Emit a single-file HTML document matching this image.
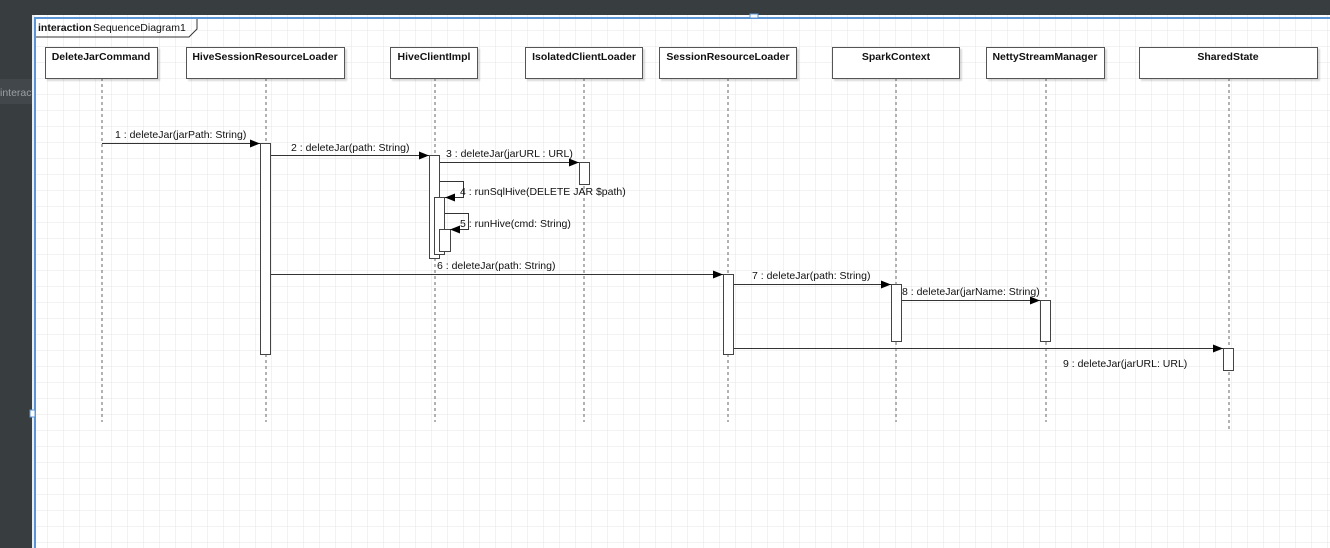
<!DOCTYPE html>
<html><head><meta charset="utf-8"><style>
html,body{margin:0;padding:0;width:1330px;height:548px;overflow:hidden;background:#fff}
svg{display:block}
text{font-family:"Liberation Sans",sans-serif;font-size:10.5px;fill:#111}
.b{font-weight:bold}
</style></head><body>
<svg width="1330" height="548" viewBox="0 0 1330 548" xmlns="http://www.w3.org/2000/svg">
<defs>
<pattern id="g" x="0" y="15" width="16" height="16" patternUnits="userSpaceOnUse">
<path d="M16 0V16M0 16H16" stroke="#e6e6e6" stroke-width="1" fill="none"/>
</pattern>
<marker id="a" markerWidth="10" markerHeight="8" refX="10" refY="4" orient="auto" markerUnits="userSpaceOnUse">
<path d="M0,0L10,4L0,8z" fill="#000"/>
</marker>
<filter id="s" x="-5%" y="-10%" width="115%" height="140%"><feDropShadow dx="2" dy="2" stdDeviation="0.8" flood-color="#000" flood-opacity="0.15"/></filter>
</defs>
<rect x="0" y="0" width="1330" height="548" fill="#fff"/>
<rect x="35" y="15" width="1295" height="533" fill="url(#g)"/>
<!-- chrome -->
<rect x="0" y="0" width="1330" height="15" fill="#383d40"/>
<rect x="0" y="0" width="32" height="548" fill="#383d40"/>
<rect x="0" y="79" width="32" height="25" fill="#41474a"/>
<text x="0" y="96" style="fill:#9aa0a4;font-size:10.5px">interact</text>
<rect x="32" y="15" width="3" height="533" fill="#e9eef3"/>
<line x1="35" y1="17" x2="35" y2="548" stroke="#5b95d6" stroke-width="2"/>
<line x1="35" y1="18" x2="1330" y2="18" stroke="#5b95d6" stroke-width="2"/>
<rect x="750" y="14" width="8" height="4" fill="#fff" stroke="#5b95d6"/>
<rect x="30" y="410" width="5" height="7" fill="#fff" stroke="#5b95d6"/>
<!-- frame label -->
<path d="M36 37H189L197 29V19" fill="none" stroke="#333" stroke-width="1"/>
<text x="38" y="31" class="b">interaction</text><text x="93" y="31">SequenceDiagram1</text>
<!-- lifelines -->
<g stroke="#666" stroke-width="1" stroke-dasharray="3,3">
<line x1="102" y1="78" x2="102" y2="422"/>
<line x1="266" y1="78" x2="266" y2="422"/>
<line x1="435" y1="78" x2="435" y2="422"/>
<line x1="584" y1="78" x2="584" y2="422"/>
<line x1="728" y1="78" x2="728" y2="422"/>
<line x1="896" y1="78" x2="896" y2="422"/>
<line x1="1046" y1="78" x2="1046" y2="422"/>
<line x1="1229" y1="78" x2="1229" y2="431"/>
</g>
<!-- heads -->
<g fill="#fff" stroke="#555" stroke-width="1" filter="url(#s)">
<rect x="45.5" y="47.5" width="112" height="31"/>
<rect x="186.5" y="47.5" width="158" height="31"/>
<rect x="390.5" y="47.5" width="87" height="31"/>
<rect x="525.5" y="47.5" width="117" height="31"/>
<rect x="659.5" y="47.5" width="137" height="31"/>
<rect x="832.5" y="47.5" width="127" height="31"/>
<rect x="986.5" y="47.5" width="118" height="31"/>
<rect x="1139.5" y="47.5" width="178" height="31"/>
</g>
<g class="b" text-anchor="middle">
<text x="101" y="60" class="b">DeleteJarCommand</text>
<text x="265" y="60" class="b">HiveSessionResourceLoader</text>
<text x="434" y="60" class="b">HiveClientImpl</text>
<text x="584" y="60" class="b">IsolatedClientLoader</text>
<text x="728" y="60" class="b">SessionResourceLoader</text>
<text x="896" y="60" class="b">SparkContext</text>
<text x="1045" y="60" class="b">NettyStreamManager</text>
<text x="1228" y="60" class="b">SharedState</text>
</g>
<!-- activations -->
<g fill="#fff" stroke="#444" stroke-width="1">
<rect x="260.5" y="143.5" width="10" height="211"/>
<rect x="429.5" y="155.5" width="10" height="103"/>
<rect x="434.5" y="197.5" width="10" height="57"/>
<rect x="439.5" y="229.5" width="11" height="22"/>
<rect x="579.5" y="162.5" width="10" height="22"/>
<rect x="723.5" y="274.5" width="10" height="80"/>
<rect x="891.5" y="284.5" width="10" height="57"/>
<rect x="1040.5" y="300.5" width="10" height="41"/>
<rect x="1223.5" y="348.5" width="10" height="22"/>
</g>
<!-- messages -->
<g stroke="#333" stroke-width="1" fill="none" marker-end="url(#a)">
<line x1="102" y1="143.5" x2="260" y2="143.5"/>
<line x1="271" y1="155.5" x2="429" y2="155.5"/>
<line x1="440" y1="162.5" x2="579" y2="162.5"/>
<path d="M440 181.5H463.5V197.5H445"/>
<path d="M445 213.5H468.5V229.5H450"/>
<line x1="271" y1="274.5" x2="723" y2="274.5"/>
<line x1="734" y1="284.5" x2="891" y2="284.5"/>
<line x1="902" y1="300.5" x2="1040" y2="300.5"/>
<line x1="734" y1="348.5" x2="1223" y2="348.5"/>
</g>
<text x="115" y="138">1 : deleteJar(jarPath: String)</text>
<text x="291" y="151">2 : deleteJar(path: String)</text>
<text x="446" y="157">3 : deleteJar(jarURL : URL)</text>
<text x="460" y="195">4 : runSqlHive(DELETE JAR $path)</text>
<text x="460" y="227">5 : runHive(cmd: String)</text>
<text x="437" y="269">6 : deleteJar(path: String)</text>
<text x="752" y="279">7 : deleteJar(path: String)</text>
<text x="902" y="295">8 : deleteJar(jarName: String)</text>
<text x="1063" y="367">9 : deleteJar(jarURL: URL)</text>
</svg>
</body></html>
